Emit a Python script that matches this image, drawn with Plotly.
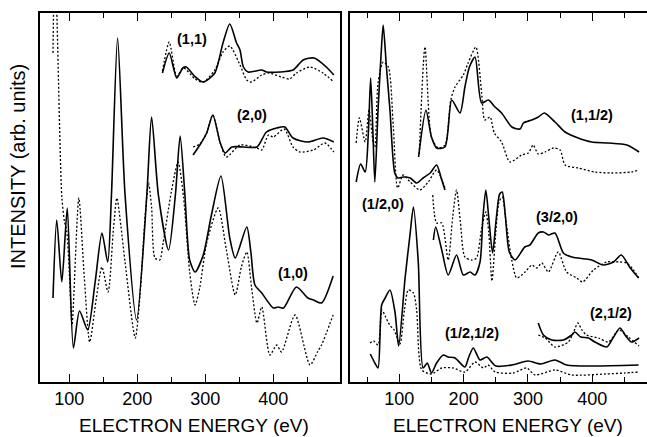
import plotly.graph_objects as go

# ---------------- LEFT PANEL DATA (energy eV, intensity arb. units) ----------------
E_10_s = [76, 81.5, 89, 97, 106, 115, 127, 138, 148, 156.5, 162, 171, 182, 199, 214, 221, 231, 246, 256, 263, 270, 277, 285, 297, 309, 323, 336, 344, 361, 367, 373, 383, 400, 407, 415, 434, 451, 459, 471, 488]
I_10_s = [84, 162, 100, 174, 34, 71, 52, 100, 149, 120, 187, 344, 187, 62, 187, 265, 187, 132, 187, 246, 187, 122, 110, 127, 167, 206, 144, 124, 155, 130, 97, 89, 74, 75, 74, 95, 84, 82, 79, 106]

E_10_d = [76, 78.5, 81.5, 89, 93, 96, 100, 104, 114, 122, 130, 140, 148, 157, 165, 170, 176, 182, 197, 204, 211, 216.5, 221, 226, 233, 238, 250, 260, 268, 277, 285, 292, 302, 319, 331, 344, 353, 361, 368, 376, 383, 395, 405, 412, 432, 454, 465, 471, 488]
I_10_d = [329, 420, 372, 185, 160, 152, 110, 57, 184, 105, 40, 85, 115, 90, 154, 184, 155, 120, 44, 87, 160, 199, 175, 124, 122, 139, 190, 220, 185, 110, 77, 95, 139, 174, 132, 87, 115, 130, 95, 59, 75, 27, 37, 30, 67, 17, 30, 37, 67]

E_11_s = [237, 247, 258, 267, 272, 284, 297, 314, 326, 336, 346, 351, 356, 363, 383, 390, 410, 429, 444, 460, 478, 489]
I_11_s = [309, 329, 304, 314, 315, 306, 300, 309, 339, 358, 339, 332, 315, 310, 312, 310, 310, 312, 322, 324, 315, 307]
E_11_d = [237, 247, 258, 268, 285, 297, 314, 326, 336, 351, 361, 368, 383, 393, 412, 424, 434, 454, 473, 489]
I_11_d = [311, 340, 306, 314, 303, 300, 312, 330, 336, 317, 302, 300, 307, 309, 305, 303, 309, 315, 309, 300]

E_20_s = [282, 292, 302, 311, 322, 329, 339, 356, 376, 390, 405, 417, 429, 451, 473, 489]
I_20_s = [227, 237, 249, 267, 239, 229, 235, 235, 235, 250, 254, 255, 244, 240, 244, 240]
E_20_d = [282, 292, 302, 311, 322, 331, 351, 376, 383, 393, 400, 416, 429, 439, 459, 476, 489]
I_20_d = [235, 238, 249, 267, 239, 225, 237, 234, 232, 247, 245, 253, 235, 230, 232, 239, 230]

# ---------------- RIGHT PANEL DATA ----------------
E_h0_s = [33, 40, 47, 52, 55.5, 59, 62, 67, 71.5, 75, 80, 85.5, 93, 98, 106, 117, 127, 137, 148, 158, 166, 171]
I_h0_s = [200, 218, 210, 250, 304, 250, 200, 272, 325, 357, 315, 272, 209, 204, 205, 204, 199, 204, 209, 217, 202, 192]
E_h0_d = [33, 38, 47, 53, 59.5, 62, 67, 75, 83, 90.7, 97.5, 106, 117, 132, 145, 158, 171]
I_h0_d = [239, 264, 240, 272, 239, 235, 299, 320, 315, 255, 194, 207, 200, 192, 200, 212, 194]

E_11h_s = [130, 141.5, 150, 158, 171, 181.5, 194.4, 202, 209, 217.7, 228, 238.4, 248.8, 259, 275, 287.7, 293, 306, 316, 325.5, 342, 357.7, 378, 399, 425, 453.6, 472.7]
I_11h_s = [225, 272, 245, 234, 235, 282, 269, 295, 315, 325, 279, 282, 275, 269, 255, 253, 259, 262, 265, 269, 260, 250, 244, 240, 239, 237, 230]
E_11h_d = [131, 140, 150, 160.6, 171, 180, 186.6, 199.5, 207, 219, 228, 233, 241, 247.7, 259, 272, 290, 300.6, 308, 316, 326.6, 339.5, 350, 357.7, 378, 404, 430, 461, 472.7]
I_11h_d = [228, 335, 245, 234, 237, 282, 295, 307, 319, 335, 289, 262, 265, 249, 240, 220, 227, 229, 237, 228, 230, 234, 232, 217, 214, 210, 209, 210, 212]

E_32_s = [153, 156.6, 166, 176, 189, 199.5, 210, 217.7, 225.5, 230, 234.5, 239, 245, 251, 256, 260, 265, 271, 280, 295, 303, 316, 324, 332, 342, 355, 368, 399, 417, 433, 445, 459, 472]
I_32_s = [142, 155, 132, 107, 127, 107, 110, 107, 120, 165, 192, 165, 129, 165, 188, 190, 165, 130, 122, 135, 137, 149, 150, 147, 149, 129, 125, 122, 117, 120, 127, 114, 104]
E_32_d = [152, 158, 166, 176, 183, 189, 195, 202, 212.6, 220, 228, 234.5, 239, 244, 250, 255, 260, 266, 274.8, 282.6, 295.5, 306, 313.7, 321.5, 331.7, 347, 360, 375.8, 385, 401.7, 422.5, 443, 453.6, 464, 472]
I_32_d = [187, 159, 159, 122, 165, 192, 160, 125, 122, 124, 154, 170, 150, 101, 150, 180, 185, 160, 122, 104, 110, 117, 114, 119, 110, 130, 110, 104, 100, 112, 120, 120, 119, 112, 104]

E_21h_s = [316, 324, 337, 355, 368, 373, 382, 394, 404, 422.5, 433, 443, 452, 461, 472.7]
I_21h_s = [59, 47, 42, 42, 47, 50, 45, 44, 40, 35, 45, 54, 46, 40, 44]
E_21h_d = [316, 327, 342, 362.8, 371, 377.4, 384, 391, 409.5, 425, 441.6, 456, 472.7]
I_21h_d = [47, 44, 35, 40, 50, 59, 52, 47, 44, 40, 52, 45, 36]

E_hh_s = [55, 62, 67, 72.6, 78, 85.5, 93.3, 99, 109, 116.6, 122, 129.5, 137, 143.5, 150, 158, 168.5, 176, 186.6, 202, 208, 215, 225.5, 236, 250, 275, 300, 320, 342, 360, 400, 472]
I_hh_s = [28, 19, 14, 77, 84, 92, 70, 36, 104, 147, 175, 120, 14, 19, 9, 19, 27, 25, 24, 15, 25, 34, 22, 25, 16, 17, 21, 18, 22, 17, 16, 17]
E_hh_d = [54.5, 60, 67, 73, 78, 85, 92, 101, 108, 114, 122, 127, 135, 150, 166, 184, 202, 217.7, 230.6, 238, 249, 277, 298, 311, 342, 368, 420, 450, 472]
I_hh_d = [39, 41, 37, 72, 66, 57, 52, 38, 72, 92, 89, 72, 12, 8, 14, 14, 10, 20, 14, 17, 10, 9, 14, 7, 12, 7, 8, 9, 10]

# labels: (text, energy, intensity, panel)
LABELS = [("(1,1)", 281, 343, 1), ("(2,0)", 369, 267, 1), ("(1,0)", 429, 109, 1),
          ("(1,1/2)", 400, 267, 2), ("(1/2,0)", 75, 178, 2), ("(3/2,0)", 345, 165, 2),
          ("(2,1/2)", 429, 69, 2), ("(1/2,1/2)", 213, 49, 2)]

X_RANGE_L = [56.9, 498.1]
X_RANGE_R = [23.4, 485.0]
Y_RANGE = [0, 369]

FONT = "Liberation Sans, Arial, Helvetica, sans-serif"

fig = go.Figure()

def add(E, I, dotted, ax):
    fig.add_trace(go.Scatter(
        x=E, y=I, mode="lines",
        line=dict(color="black", width=1.3 if dotted else 1.6,
                  dash="2px,2px" if dotted else "solid",
                  shape="spline", smoothing=0.7),
        xaxis="x" if ax == 1 else "x2", yaxis="y" if ax == 1 else "y2",
        showlegend=False, hoverinfo="skip"))

for E, I, d, a in [
    (E_10_s, I_10_s, False, 1), (E_10_d, I_10_d, True, 1),
    (E_11_s, I_11_s, False, 1), (E_11_d, I_11_d, True, 1),
    (E_20_s, I_20_s, False, 1), (E_20_d, I_20_d, True, 1),
    (E_h0_s, I_h0_s, False, 2), (E_h0_d, I_h0_d, True, 2),
    (E_11h_s, I_11h_s, False, 2), (E_11h_d, I_11h_d, True, 2),
    (E_32_s, I_32_s, False, 2), (E_32_d, I_32_d, True, 2),
    (E_21h_s, I_21h_s, False, 2), (E_21h_d, I_21h_d, True, 2),
    (E_hh_s, I_hh_s, False, 2), (E_hh_d, I_hh_d, True, 2)]:
    add(E, I, d, a)

for txt, e, i, p in LABELS:
    fig.add_annotation(text="<b>%s</b>" % txt, x=e, y=i,
                       xref="x" if p == 1 else "x2", yref="y" if p == 1 else "y2",
                       xanchor="center", yanchor="middle",
                       showarrow=False, font=dict(family=FONT, size=14.5, color="black"))

ydom = [(437 - 382) / 437, (437 - 13) / 437]
xax = dict(showline=True, linecolor="black", linewidth=1.5, mirror="ticks",
           ticks="inside", ticklen=8, tickwidth=1.3, tickcolor="black",
           tick0=0, dtick=100, showgrid=False, zeroline=False,
           tickfont=dict(family=FONT, size=18, color="black"),
           minor=dict(dtick=50, tick0=0, ticks="inside", ticklen=5, tickwidth=1.2,
                      tickcolor="black", showgrid=False))
yax = dict(showline=True, linecolor="black", linewidth=1.5, mirror=True,
           ticks="", showticklabels=False, showgrid=False, zeroline=False,
           range=Y_RANGE, domain=ydom)

fig.update_layout(
    width=647, height=437, margin=dict(l=0, r=0, t=0, b=0, autoexpand=False),
    paper_bgcolor="white", plot_bgcolor="white",
    xaxis=dict(xax, domain=[40 / 647, 340 / 647], range=X_RANGE_L, anchor="y"),
    xaxis2=dict(xax, domain=[350 / 647, 1.0], range=X_RANGE_R, anchor="y2"),
    yaxis=dict(yax, anchor="x"),
    yaxis2=dict(yax, anchor="x2"),
)

for xc in (194, 508):
    fig.add_annotation(text="ELECTRON ENERGY (eV)", x=xc / 647, y=(437 - 425) / 437,
                       xref="paper", yref="paper", xanchor="center", yanchor="middle",
                       showarrow=False, font=dict(family=FONT, size=19, color="black"))
fig.add_annotation(text="INTENSITY (arb. units)", x=18 / 647, y=(437 - 167) / 437,
                   xref="paper", yref="paper", xanchor="center", yanchor="middle",
                   showarrow=False, textangle=-90,
                   font=dict(family=FONT, size=20, color="black"))

fig.write_html("out.html", config={"displayModeBar": False},
               post_script="document.body.style.margin='0';document.body.style.padding='0';")
